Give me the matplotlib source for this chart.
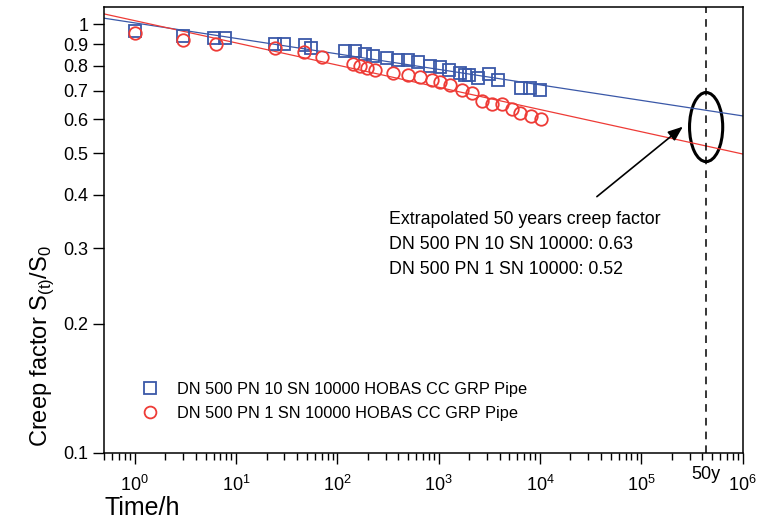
import numpy as np
import matplotlib.pyplot as plt
from matplotlib.patches import Ellipse
from matplotlib.lines import Line2D

plt.rcParams['font.family'] = ['Liberation Sans', 'DejaVu Sans']

# measured creep factor, PN 10 pipe
t_pn10 = [1, 3, 6.1, 7.8, 24, 30, 48, 55, 119, 149, 187, 223, 311, 399, 501, 629,
          821, 1030, 1273, 1623, 1840, 1990, 2460, 3160, 3870, 6430, 7970, 10000]
s_pn10 = [0.965, 0.939, 0.931, 0.931, 0.901, 0.901, 0.893, 0.882, 0.866, 0.866, 0.855,
          0.846, 0.836, 0.827, 0.824, 0.815, 0.798, 0.796, 0.783, 0.771, 0.760, 0.760,
          0.750, 0.764, 0.741, 0.712, 0.710, 0.701]

# measured creep factor, PN 1 pipe
t_pn1 = [1, 3, 6.4, 24, 47, 71, 144, 167, 195, 235, 356, 501, 654, 853, 1042, 1309,
         1688, 2157, 2660, 3338, 4190, 5290, 6415, 8150, 10230]
s_pn1 = [0.953, 0.922, 0.901, 0.882, 0.863, 0.840, 0.809, 0.799, 0.792, 0.782, 0.772,
         0.761, 0.752, 0.742, 0.734, 0.722, 0.703, 0.692, 0.662, 0.652, 0.652, 0.633,
         0.622, 0.611, 0.600]

# regression: value at 50 years and log-log slope
t_50y = 50 * 8760
fit_pn10 = (0.63, -0.0362)
fit_pn1 = (0.52, -0.0519)

labels = ['DN 500 PN 10 SN 10000 HOBAS CC GRP Pipe',
          'DN 500 PN 1 SN 10000 HOBAS CC GRP Pipe']
y_ticks = [0.1, 0.2, 0.3, 0.4, 0.5, 0.6, 0.7, 0.8, 0.9, 1]
y_ticklabels = ['0.1', '0.2', '0.3', '0.4', '0.5', '0.6', '0.7', '0.8', '0.9', '1']

blue = '#3a58a8'
red = '#ee3b36'

fig = plt.figure(figsize=(7.71, 5.21), dpi=100)
ax = fig.add_axes([104.3 / 771, 1 - 452.5 / 521, 638.2 / 771, 445.8 / 521])
ax.set_xscale('log')
ax.set_yscale('log')
ax.set_xlim(0.5, 1e6)
ax.set_ylim(0.1, 1.1)

tt = np.logspace(np.log10(0.5), 6, 200)
ax.plot(tt, fit_pn10[0] * (tt / t_50y) ** fit_pn10[1], color=blue, lw=0.9)
ax.plot(tt, fit_pn1[0] * (tt / t_50y) ** fit_pn1[1], color=red, lw=0.9)

ax.plot(t_pn10, s_pn10, ls='none', marker='s', ms=8.5, mfc='none', mec=blue, mew=1.3)
ax.plot(t_pn1, s_pn1, ls='none', marker='o', ms=9, mfc='none', mec=red, mew=1.3)

ax.axvline(t_50y, color='black', ls=(0, (5, 4)), lw=1.1)

# ellipse round the 50 year values
ax.add_patch(Ellipse((0.943, 0.730), 0.052, 0.155, transform=ax.transAxes,
                     fill=False, ec='black', lw=2.2))
ax.annotate('', xy=(258000, 0.577), xytext=(36500, 0.396),
            arrowprops=dict(arrowstyle='-|>,head_length=0.9,head_width=0.35',
                            color='black', lw=1.2, shrinkA=0, shrinkB=0))
ax.text(323, 0.366, 'Extrapolated 50 years creep factor\n'
        'DN 500 PN 10 SN 10000: %.2f\nDN 500 PN 1 SN 10000: %.2f' % (fit_pn10[0], fit_pn1[0]),
        fontsize=12.8, va='top', ha='left', linespacing=1.6,
        transform=ax.transData)

# ticks
ax.set_yticks(y_ticks)
ax.set_yticklabels(y_ticklabels)
ax.yaxis.set_minor_locator(plt.NullLocator())
ax.set_xticks([10.0 ** k for k in range(0, 7)])
ax.set_xticklabels([r'$\mathregular{10^{%d}}$' % k for k in range(0, 7)])
ax.tick_params(axis='both', which='major', direction='out', length=8, width=1,
               labelsize=13)
ax.tick_params(axis='x', which='major', pad=8)
ax.tick_params(axis='x', which='minor', direction='out', length=5, width=1)
ax.text(t_50y, -0.03, '50y', transform=ax.get_xaxis_transform(),
        ha='center', va='top', fontsize=13)

for s in ax.spines.values():
    s.set_linewidth(1.1)

ax.set_xlabel('Time/h', fontsize=18, loc='left', labelpad=1)
ax.set_ylabel(r'Creep factor S$_\mathregular{(t)}$/S$_\mathregular{0}$', fontsize=17,
              loc='bottom')
ax.yaxis.set_label_coords(-0.075, 0.012)

handles = [Line2D([], [], ls='none', marker='s', ms=8, mfc='none', mec=blue, mew=1.3),
           Line2D([], [], ls='none', marker='o', ms=8.5, mfc='none', mec=red, mew=1.3)]
ax.legend(handles, labels, loc='center left', bbox_to_anchor=(0.0516, 0.114),
          frameon=False, fontsize=11.8, handlelength=1.5, handletextpad=0.95,
          borderpad=0, borderaxespad=0, labelspacing=0.55)

fig.savefig('out.png', dpi=100)
